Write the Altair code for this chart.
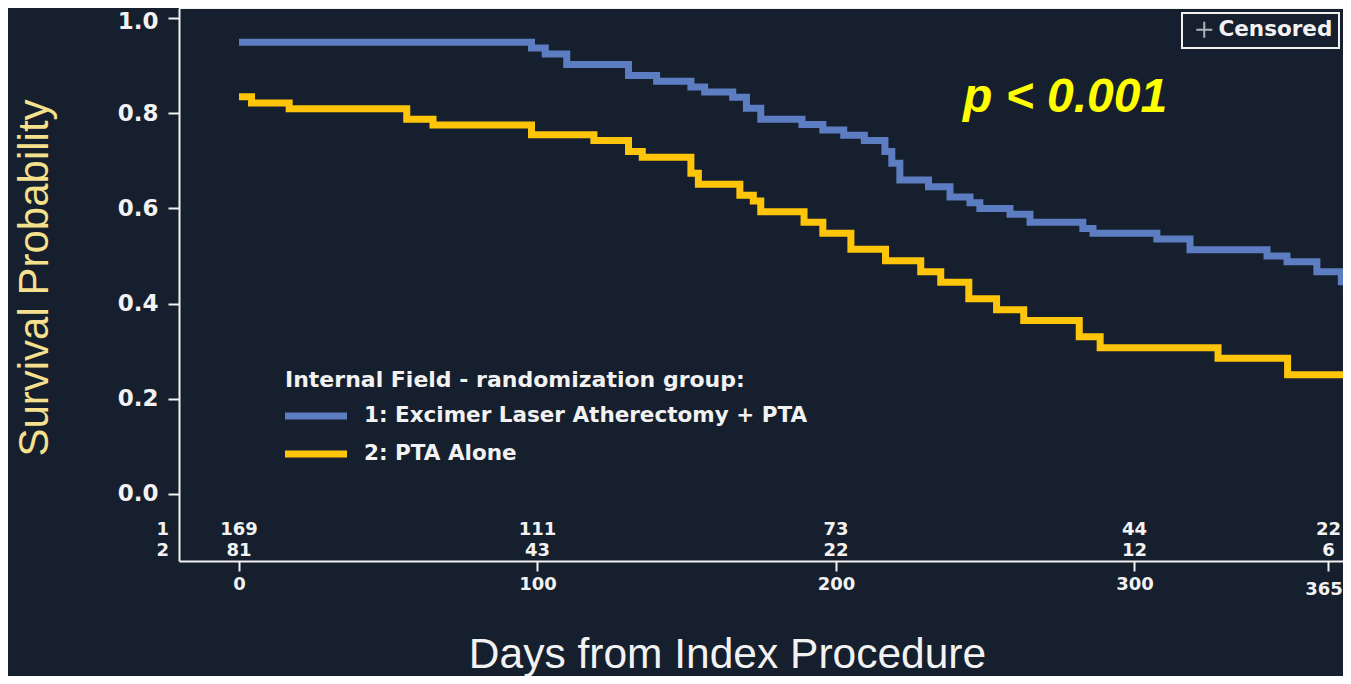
import altair as alt
import pandas as pd

# ---------------- data ----------------
groups = ["1: Excimer Laser Atherectomy + PTA", "2: PTA Alone"]
colors = ["#5d7dc2", "#ffc50a"]

laser_days = [0, 98, 102.6, 109.8, 130.5, 139.9, 151.4, 156, 165.4, 170, 174.8,
              188.6, 195.6, 202.6, 209.5, 216.4, 218.7, 221.4, 231.0, 238.2,
              244.9, 248.2, 258.3, 265, 282.7, 286.1, 307.5, 318.6, 344.4,
              351.1, 361.1, 369.3, 371, 372.2]
laser_surv = [0.95, 0.938, 0.925, 0.903, 0.88, 0.868, 0.856, 0.845, 0.834, 0.811,
              0.788, 0.777, 0.765, 0.754, 0.743, 0.72, 0.695, 0.66, 0.646, 0.624,
              0.612, 0.600, 0.588, 0.571, 0.558, 0.548, 0.536, 0.513, 0.5,
              0.488, 0.467, 0.446, 0.425, 0.425]

pta_days = [0, 4.2, 16.8, 56.2, 65, 98, 118.9, 130.5, 135.1, 151.4, 153.9, 167.8,
            172.3, 174.8, 189.3, 195.6, 205, 216.6, 228.4, 235.1, 244.5, 253.8,
            262.9, 281.5, 288.5, 328, 351.3, 372.2]
pta_surv = [0.835, 0.822, 0.81, 0.788, 0.776, 0.755, 0.743, 0.72, 0.708, 0.674,
            0.651, 0.628, 0.616, 0.593, 0.571, 0.548, 0.514, 0.49, 0.467, 0.445,
            0.41, 0.387, 0.364, 0.33, 0.307, 0.285, 0.25, 0.25]

risk_days = [0, 100, 200, 300, 365]
risk_laser = [169, 111, 73, 44, 22]
risk_pta = [81, 43, 22, 12, 6]
risk_rows = ["1", "2"]

x_ticks = [0, 100, 200, 300, 365]
y_ticks = [0.0, 0.2, 0.4, 0.6, 0.8, 1.0]

censored_days = []
censored_surv = []

# ---------------- tables ----------------
curves = pd.DataFrame({
    "day": laser_days + pta_days,
    "surv": laser_surv + pta_surv,
    "group": [groups[0]] * len(laser_days) + [groups[1]] * len(pta_days),
})
risk = pd.DataFrame({
    "day": risk_days + risk_days,
    "count": risk_laser + risk_pta,
    "row": [risk_rows[0]] * len(risk_days) + [risk_rows[1]] * len(risk_days),
})
rows = pd.DataFrame({"row": risk_rows})
censored = pd.DataFrame({"day": censored_days, "surv": censored_surv,
                         "status": ["Censored"] * len(censored_days)})

BG = "#161f2d"
WHITE = "#f2f2f2"
LEGEND_FONT = "DejaVu Sans"
NUM_FONT = "DejaVu Sans"

PLOT_W, PLOT_H = 1164, 553
x_scale = alt.Scale(domain=[-20.1, 369.86], nice=False, zero=False)
y_scale = alt.Scale(domain=[-0.1421, 1.0221], nice=False, zero=False)

x_axis = alt.Axis(
    values=x_ticks, title="Days from Index Procedure", grid=False,
    domainColor=WHITE, domainWidth=2, tickColor=WHITE, tickWidth=2, tickSize=10,
    labelFont=NUM_FONT, labelFontWeight="bold", labelFontSize=18, labelColor=WHITE,
    labelPadding={"condition": {"test": "datum.value == 365", "value": 9}, "value": 4},
    labelOffset={"condition": {"test": "datum.value == 365", "value": -5}, "value": 0},
    labelFlush=False, labelOverlap=False,
    titleFont="Liberation Sans", titleFontSize=42.5, titleFontWeight="normal",
    titleColor=WHITE, titleX=548, titleY=106, titleAlign="center",
    titleBaseline="alphabetic",
)
y_axis = alt.Axis(
    values=y_ticks, format=".1f", title="Survival Probability", grid=False,
    domainColor=WHITE, domainWidth=2, tickColor=WHITE, tickWidth=2, tickSize=11,
    labelFont=NUM_FONT, labelFontWeight="bold", labelFontSize=23, labelColor=WHITE,
    labelPadding=10, labelFlush=False, labelOverlap=False,
    labelOffset={"condition": {"test": "datum.value == 1", "value": 3.5}, "value": 0},
    titleFont="Liberation Sans", titleFontSize=42, titleFontWeight="normal",
    titleColor="#f5e08e", titleAngle=270, titleX=-132, titleY=269.5,
    titleAlign="center", titleBaseline="alphabetic",
)

lines = alt.Chart(curves).mark_line(
    interpolate="step-after", strokeWidth=7, strokeCap="butt", clip=True
).encode(
    x=alt.X("day:Q", scale=x_scale, axis=x_axis),
    y=alt.Y("surv:Q", scale=y_scale, axis=y_axis),
    color=alt.Color(
        "group:N",
        scale=alt.Scale(domain=groups, range=colors),
        legend=alt.Legend(
            orient="none", legendX=106, legendY=362,
            title="Internal Field - randomization group:",
            titleFont=LEGEND_FONT, titleFontSize=22, titleFontWeight="bold",
            titleColor=WHITE, titlePadding=5, titleLimit=800,
            labelFont=LEGEND_FONT, labelFontSize=21.5, labelFontWeight="bold",
            labelColor=WHITE, labelLimit=800, labelOffset=60,
            symbolType="M0,0H4", symbolSize=961, symbolStrokeWidth=7,
            symbolOffset=-19, rowPadding=5, padding=0,
        ),
    ),
    detail="group:N",
)

risk_text = alt.Chart(risk).transform_calculate(
    surv="datum.row == '1' ? -0.0768 : -0.121"
).mark_text(
    font=NUM_FONT, fontWeight="bold", fontSize=18, color=WHITE,
    align="center", baseline="middle",
).encode(
    x=alt.X("day:Q", scale=x_scale),
    y=alt.Y("surv:Q", scale=y_scale),
    text="count:Q",
)

row_labels = alt.Chart(rows).transform_calculate(
    surv="datum.row == '1' ? -0.0768 : -0.121"
).mark_text(
    font=NUM_FONT, fontWeight="bold", fontSize=18, color=WHITE,
    align="right", baseline="middle",
).encode(
    x=alt.value(-10),
    y=alt.Y("surv:Q", scale=y_scale),
    text="row:N",
)

cens = alt.Chart(censored).mark_point(
    filled=False, color="white", strokeWidth=2, size=256
).encode(
    x=alt.X("day:Q", scale=x_scale),
    y=alt.Y("surv:Q", scale=y_scale),
    shape=alt.Shape(
        "status:N",
        scale=alt.Scale(domain=["Censored"], range=["M-1,0H1M0,-1V1"]),
        legend=alt.Legend(
            orient="none", legendX=1003, legendY=5, title=None,
            strokeColor=WHITE, fillColor=BG, padding=6,
            labelFont=LEGEND_FONT, labelFontSize=21.5, labelFontWeight="bold",
            labelColor=WHITE, labelOffset=3.5, labelLimit=400,
            symbolSize=256, symbolStrokeWidth=2, symbolStrokeColor=WHITE,
            symbolFillColor="transparent", symbolOffset=5.5,
        ),
    ),
)

top_edge = alt.Chart(pd.DataFrame({"edge": ["top"]})).mark_rule(
    color=WHITE, strokeWidth=2
).encode(x=alt.value(0), x2=alt.value(PLOT_W), y=alt.value(0))

pval = alt.Chart(pd.DataFrame({"label": ["p < 0.001"]})).mark_text(
    font="Liberation Sans", fontSize=48, fontWeight="bold", fontStyle="italic",
    color="#ffff00", align="left", baseline="alphabetic",
).encode(x=alt.value(784), y=alt.value(104), text="label:N")

chart = alt.layer(lines, risk_text, row_labels, cens, top_edge, pval).properties(
    width=PLOT_W, height=PLOT_H,
    autosize=alt.AutoSizeParams(type="none"),
    padding={"left": 171, "top": 0, "right": 0, "bottom": 115},
    background=BG,
).configure_view(strokeWidth=0).configure_legend(strokeWidth=2)

chart.save("out.html", embed_options={"renderer": "svg", "actions": False})
